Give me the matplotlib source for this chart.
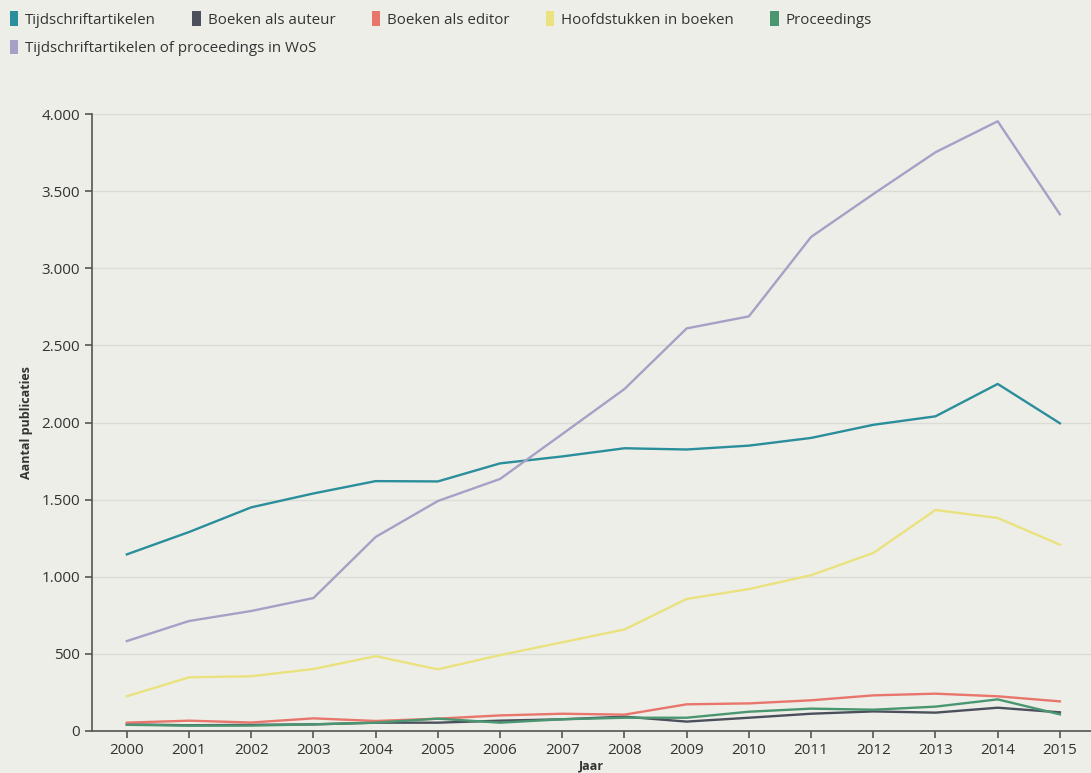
# Publicaties per type, 2000-2015

import matplotlib
matplotlib.use("Agg")
import matplotlib.pyplot as plt
from matplotlib.patches import Rectangle
from matplotlib.ticker import FuncFormatter, MultipleLocator

# ------------------------------------------------------------
# Data
# ------------------------------------------------------------

jaren = list(range(2000, 2016))

tijdschrift = [1145, 1290, 1450, 1540, 1620, 1618, 1735, 1780, 1833, 1825,
               1850, 1900, 1985, 2040, 2250, 1995]
auteur = [43, 37, 40, 43, 54, 54, 67, 76, 93, 61, 86, 112, 127, 119, 151, 121]
editor = [54, 67, 55, 82, 65, 80, 101, 112, 106, 173, 179, 199, 231, 242, 225, 192]
hoofdstuk = [225, 348, 355, 402, 485, 400, 492, 575, 658, 856, 920, 1010,
             1154, 1433, 1381, 1208]
proceedings = [40, 35, 35, 43, 54, 80, 54, 76, 86, 86, 125, 145, 138, 158, 205, 108]
wos = [583, 713, 778, 862, 1258, 1491, 1634, 1925, 2217, 2610, 2688, 3203,
       3481, 3752, 3953, 3350]

series = [
    ("Tijdschriftartikelen", tijdschrift, "#2a8e9b"),
    ("Boeken als auteur", auteur, "#4b505c"),
    ("Boeken als editor", editor, "#e8766c"),
    ("Hoofdstukken in boeken", hoofdstuk, "#e9e27e"),
    ("Proceedings", proceedings, "#4a9670"),
    ("Tijdschriftartikelen of proceedings in WoS", wos, "#a6a0c6"),
]

BG = "#eeeee9"
TXT = "#333333"
W, H = 1091, 773

plt.rcParams["font.family"] = ["Open Sans", "DejaVu Sans"]

fig = plt.figure(figsize=(W / 100, H / 100), dpi=100, facecolor=BG)
ax = fig.add_axes([92 / W, 42 / H, 999 / W, 617 / H])
ax.set_facecolor(BG)

handles = []
for name, vals, col in series:
    ax.plot(jaren, vals, color=col, lw=1.7, solid_joinstyle="round")
    handles.append(Rectangle((0, 0), 1, 1, facecolor=col, edgecolor="none", label=name))

ax.set_xlim(1999.44, 2015.5)
ax.set_ylim(0, 4000)
ax.set_xticks(jaren)
ax.yaxis.set_major_locator(MultipleLocator(500))
ax.yaxis.set_major_formatter(FuncFormatter(lambda v, p: f"{int(v):,}".replace(",", ".")))

ax.grid(axis="y", color="#dcdcd6", lw=1)
ax.set_axisbelow(True)
for s in ["top", "right"]:
    ax.spines[s].set_visible(False)
for s in ["left", "bottom"]:
    ax.spines[s].set_color("#555555")
    ax.spines[s].set_linewidth(1.2)
ax.tick_params(colors="#555555", labelcolor=TXT, labelsize=11, length=5, width=1.2)

ax.set_ylabel("Aantal publicaties", fontsize=9, fontweight="bold", color=TXT, labelpad=6)
ax.set_xlabel("Jaar", fontsize=9, fontweight="bold", color=TXT, labelpad=1)

# legend flows row by row: 5 items on the first line, WoS on the second
leg_kw = dict(frameon=False, fontsize=10.9, handlelength=0.56, handleheight=1.12,
              handletextpad=0.45, columnspacing=2.4, labelcolor=TXT,
              borderaxespad=0, borderpad=0, loc="center left")
fig.legend(handles=handles[:5], ncol=5,
           bbox_to_anchor=(10 / W, 1 - 19.5 / H), **leg_kw)
fig.legend(handles=handles[5:], ncol=1,
           bbox_to_anchor=(10 / W, 1 - 48 / H), **leg_kw)

fig.savefig("out.png", dpi=100, facecolor=BG)
